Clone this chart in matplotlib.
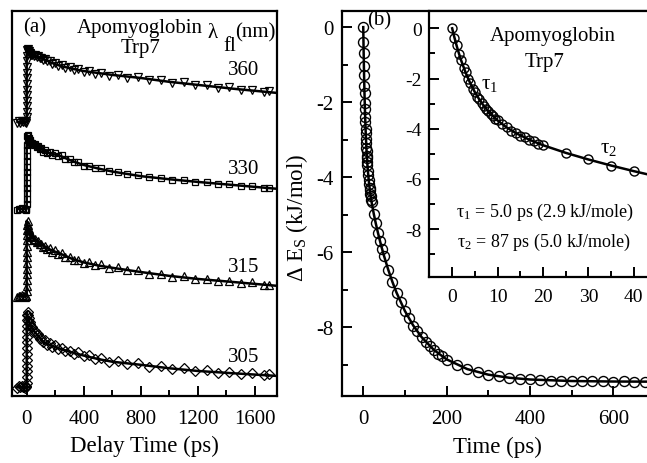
import matplotlib
matplotlib.use('Agg')
import matplotlib.pyplot as plt
from matplotlib.ticker import MultipleLocator

plt.rcParams['font.family'] = ['Liberation Serif', 'DejaVu Serif']
plt.rcParams['mathtext.fontset'] = 'custom'
plt.rcParams['mathtext.rm'] = 'Liberation Serif'
plt.rcParams['mathtext.it'] = 'Liberation Serif:italic'

# ---------------- panel (a): normalized traces (offset, arbitrary units) -------------
t_base = [-65, -55, -45, -35, -25, -15, -8, -3]
t_rise = [0, 0.5, 1, 1.5, 2, 2.5, 3, 3.5, 4, 4.5, 5, 5.5, 6, 6.5]
t_dec = [5, 10, 15, 20, 25, 30, 40, 50, 60, 70, 80, 90, 100, 115, 130, 145, 160, 180,
         200, 220, 245, 270, 300, 330, 360, 400, 440, 480, 520, 580, 640, 700, 780, 860,
         940, 1020, 1100, 1180, 1260, 1340, 1420, 1500, 1580, 1660, 1700]

base_360 = [7.10, 7.13, 7.09, 7.14, 7.11, 7.12, 7.10, 7.13]
rise_360 = [7.24, 7.38, 7.53, 7.67, 7.82, 7.96, 8.11, 8.25, 8.40, 8.54, 8.69, 8.83, 8.95, 9.01]
dec_360 = [8.99, 8.93, 8.95, 8.89, 8.91, 8.86, 8.87, 8.82, 8.85, 8.80, 8.82, 8.77, 8.79,
           8.74, 8.75, 8.69, 8.70, 8.63, 8.64, 8.58, 8.59, 8.53, 8.54, 8.47, 8.49, 8.42,
           8.44, 8.37, 8.40, 8.32, 8.34, 8.27, 8.29, 8.21, 8.22, 8.13, 8.15, 8.07, 8.08,
           8.00, 8.03, 7.94, 7.96, 7.89, 7.91]
fit_t = [-65, 0, 0, 5, 15, 30, 50, 80, 120, 170, 240, 320, 400, 500, 600, 800, 1000,
         1200, 1450, 1760]
fit_360 = [7.12, 7.12, 9.01, 8.98, 8.93, 8.88, 8.84, 8.81, 8.75, 8.66, 8.57, 8.50, 8.44,
           8.39, 8.34, 8.26, 8.16, 8.08, 7.98, 7.87]

base_330 = [4.84, 4.87, 4.85, 4.88, 4.86, 4.85, 4.87, 4.84]
rise_330 = [4.98, 5.12, 5.26, 5.40, 5.54, 5.68, 5.82, 5.96, 6.10, 6.24, 6.38, 6.52, 6.66, 6.79]
dec_330 = [6.76, 6.68, 6.70, 6.61, 6.64, 6.57, 6.58, 6.51, 6.54, 6.46, 6.49, 6.41, 6.44,
           6.35, 6.38, 6.31, 6.34, 6.27, 6.30, 6.23, 6.25, 6.16, 6.15, 6.07, 6.08, 5.98,
           5.98, 5.91, 5.91, 5.84, 5.83, 5.76, 5.74, 5.69, 5.66, 5.61, 5.60, 5.55, 5.55,
           5.50, 5.50, 5.45, 5.45, 5.40, 5.41]
fit_330 = [4.86, 4.86, 6.78, 6.73, 6.66, 6.60, 6.53, 6.47, 6.36, 6.30, 6.23, 6.10, 6.00,
           5.91, 5.83, 5.71, 5.63, 5.56, 5.48, 5.38]

base_315 = [2.58, 2.61, 2.59, 2.62, 2.60, 2.58, 2.61, 2.59]
rise_315 = [2.72, 2.86, 3.01, 3.16, 3.31, 3.45, 3.60, 3.75, 3.89, 4.04, 4.18, 4.32, 4.45, 4.54]
dec_315 = [4.44, 4.31, 4.35, 4.21, 4.24, 4.13, 4.15, 4.05, 4.08, 3.99, 4.03, 3.94, 3.96,
           3.88, 3.90, 3.82, 3.84, 3.75, 3.78, 3.69, 3.71, 3.62, 3.61, 3.53, 3.54, 3.46,
           3.47, 3.40, 3.42, 3.33, 3.34, 3.27, 3.28, 3.18, 3.18, 3.10, 3.11, 3.04, 3.05,
           2.98, 3.00, 2.93, 2.95, 2.88, 2.89]
fit_315 = [2.60, 2.60, 4.55, 4.43, 4.29, 4.16, 4.08, 4.00, 3.90, 3.79, 3.69, 3.56, 3.47,
           3.39, 3.33, 3.22, 3.12, 3.04, 2.96, 2.86]

base_305 = [0.22, 0.25, 0.23, 0.26, 0.24, 0.22, 0.25, 0.23]
rise_305 = [0.35, 0.50, 0.65, 0.79, 0.94, 1.09, 1.24, 1.39, 1.53, 1.68, 1.83, 1.97, 2.10, 2.18]
dec_305 = [2.10, 1.95, 2.03, 1.86, 1.92, 1.78, 1.80, 1.65, 1.70, 1.58, 1.62, 1.48, 1.51,
           1.39, 1.45, 1.32, 1.37, 1.28, 1.32, 1.22, 1.25, 1.16, 1.18, 1.10, 1.13, 1.03,
           1.06, 0.96, 1.00, 0.88, 0.92, 0.83, 0.86, 0.76, 0.78, 0.69, 0.72, 0.64, 0.67,
           0.61, 0.63, 0.58, 0.59, 0.55, 0.56]
fit_305 = [0.23, 0.23, 2.18, 2.08, 1.94, 1.82, 1.69, 1.56, 1.40, 1.31, 1.22, 1.13, 1.05,
           0.96, 0.89, 0.81, 0.72, 0.65, 0.59, 0.52]

wavelengths = ['360', '330', '315', '305']
markers = ['v', 's', '^', 'D']
msizes = [6, 5, 6, 5]
traces_base = [base_360, base_330, base_315, base_305]
traces_rise = [rise_360, rise_330, rise_315, rise_305]
traces_dec = [dec_360, dec_330, dec_315, dec_305]
traces_fit = [fit_360, fit_330, fit_315, fit_305]

# ---------------- panel (b): solvation energy --------------------------------------
t_b = [0, 0.5, 1, 1.5, 2, 2.5, 3, 3.5, 4, 4.5, 5, 5.5, 6, 6.5, 7, 7.5, 8, 8.5, 9, 9.5, 10,
       11, 12, 13, 14, 15, 16, 17, 18, 19, 20, 25, 30, 35, 40, 45, 50,
       60, 70, 80, 90, 100, 110, 120, 130, 140, 150, 160, 170, 180, 190, 200,
       225, 250, 275, 300, 325, 350, 375, 400, 425, 450, 475, 500, 525, 550, 575, 600,
       625, 650, 675]
dE_b = [0.00, -0.39, -0.68, -1.03, -1.27, -1.57, -1.76, -2.02, -2.18, -2.40, -2.53, -2.72,
        -2.83, -2.99, -3.09, -3.22, -3.31, -3.43, -3.50, -3.60, -3.67, -3.83, -3.94, -4.08,
        -4.17, -4.28, -4.35, -4.45, -4.51, -4.60, -4.66, -4.97, -5.22, -5.48, -5.69, -5.91,
        -6.10, -6.47, -6.78, -7.09, -7.33, -7.57, -7.76, -7.96, -8.11, -8.27, -8.38, -8.51,
        -8.60, -8.70, -8.77, -8.86, -9.00, -9.12, -9.19, -9.27, -9.30, -9.35, -9.37, -9.39,
        -9.40, -9.42, -9.42, -9.43, -9.44, -9.44, -9.44, -9.45, -9.44, -9.45, -9.45]
t_fitb = [0, 0.5, 1, 1.5, 2, 3, 4, 5, 6, 7, 8, 10, 12, 14, 17, 20, 25, 30, 35, 40, 45, 50,
          60, 70, 80, 100, 120, 140, 170, 200, 250, 300, 350, 400, 500, 600, 700]
dE_fitb = [0.000, -0.367, -0.702, -1.009, -1.289, -1.781, -2.195, -2.545, -2.842, -3.097,
           -3.316, -3.672, -3.949, -4.172, -4.439, -4.658, -4.962, -5.227, -5.468, -5.692,
           -5.902, -6.101, -6.465, -6.789, -7.078, -7.565, -7.952, -8.260, -8.607, -8.853,
           -9.114, -9.261, -9.343, -9.390, -9.431, -9.444, -9.448]
y_ticks = [0, -2, -4, -6, -8]
y_ticklabels = ['0', '-2', '-4', '-6', '-8']

W, H = 647, 464
def fx(px):
    return px / W
def fy(py):
    return 1 - py / H

fig = plt.figure(figsize=(6.47, 4.64), dpi=100)

def style(ax, xsize=15, ysize=15, xpad=9, ypad=6):
    for s in ax.spines.values():
        s.set_linewidth(1.6)
    ax.tick_params(which='both', direction='in', top=False, right=False, width=1.4)
    ax.tick_params(which='major', length=7)
    ax.tick_params(which='minor', length=4.5)
    ax.tick_params(axis='x', labelsize=xsize, pad=xpad)
    ax.tick_params(axis='y', labelsize=ysize, pad=ypad)

# panel (a)
axa = fig.add_axes([fx(12), fy(397), fx(277) - fx(12), fy(12) - fy(397)])
for b, r, d, f, m, ms in zip(traces_base, traces_rise, traces_dec, traces_fit, markers, msizes):
    axa.plot(fit_t, f, '-', color='k', lw=1.8, zorder=3)
    axa.plot(t_base + t_rise + t_dec, b + r + d, m, mfc='none', mec='k', mew=0.9,
             ms=ms, zorder=2, clip_on=False)
axa.set_xlim(-103, 1754)
axa.set_ylim(0, 10)
axa.xaxis.set_major_locator(MultipleLocator(400))
axa.xaxis.set_minor_locator(MultipleLocator(200))
axa.set_yticks([])
style(axa)

# panel (b) main
axb = fig.add_axes([fx(342), fy(397), 1.0 - fx(342), fy(12) - fy(397)])
axb.plot(t_b, dE_b, 'o', mfc='none', mec='k', mew=1.0, ms=7.2, zorder=2)
axb.plot(t_fitb, dE_fitb, '-', color='k', lw=1.8, zorder=3)
axb.set_xlim(-51, 681)
axb.set_ylim(-9.83, 0.43)
axb.xaxis.set_major_locator(MultipleLocator(200))
axb.xaxis.set_minor_locator(MultipleLocator(100))
axb.yaxis.set_minor_locator(MultipleLocator(1))
axb.set_yticks(y_ticks)
axb.set_yticklabels(y_ticklabels)
axb.spines['right'].set_visible(False)
style(axb)

# inset
axi = fig.add_axes([fx(429), fy(278), 1.0 - fx(429), fy(12) - fy(278)])
axi.set_facecolor('white')
axi.plot(t_b, dE_b, 'o', mfc='none', mec='k', mew=1.0, ms=6.5, zorder=2)
axi.plot(t_fitb, dE_fitb, '-', color='k', lw=1.8, zorder=3)
axi.set_xlim(-5.1, 42.9)
axi.set_ylim(-9.91, 0.69)
axi.xaxis.set_major_locator(MultipleLocator(10))
axi.xaxis.set_minor_locator(MultipleLocator(5))
axi.yaxis.set_minor_locator(MultipleLocator(1))
axi.set_yticks(y_ticks)
axi.set_yticklabels(y_ticklabels)
axi.spines['right'].set_visible(False)
style(axi, xsize=14, ysize=14, xpad=8, ypad=5)

# texts
def T(x, y, s, size=15, **kw):
    fig.text(fx(x), fy(y), s, fontsize=size, ha=kw.pop('ha', 'center'),
             va=kw.pop('va', 'center'), **kw)

T(35, 28, '(a)')
T(140, 29, 'Apomyoglobin')
T(141, 48, 'Trp7')
T(213, 34, 'λ', size=15)
T(230, 47, 'fl', size=15)
T(255, 33, '(nm)')
for lab, yy in zip(wavelengths, [71, 170, 268, 358]):
    T(244, yy, lab)
T(144, 446, 'Delay Time (ps)', size=16.5)

T(379, 21, '(b)')
T(297, 218, 'Δ E$_{\\rm S}$ (kJ/mol)', size=16.5, rotation=90)
T(497, 447, 'Time (ps)', size=16.5)
T(553, 37, 'Apomyoglobin')
T(545, 62, 'Trp7')
T(490, 85, 'τ$_1$')
T(609, 149, 'τ$_2$')
T(545, 212, 'τ$_1$ = 5.0 ps (2.9 kJ/mole)', size=13)
T(544, 242, 'τ$_2$ = 87 ps (5.0 kJ/mole)', size=13)

fig.savefig('out.png', dpi=100)
